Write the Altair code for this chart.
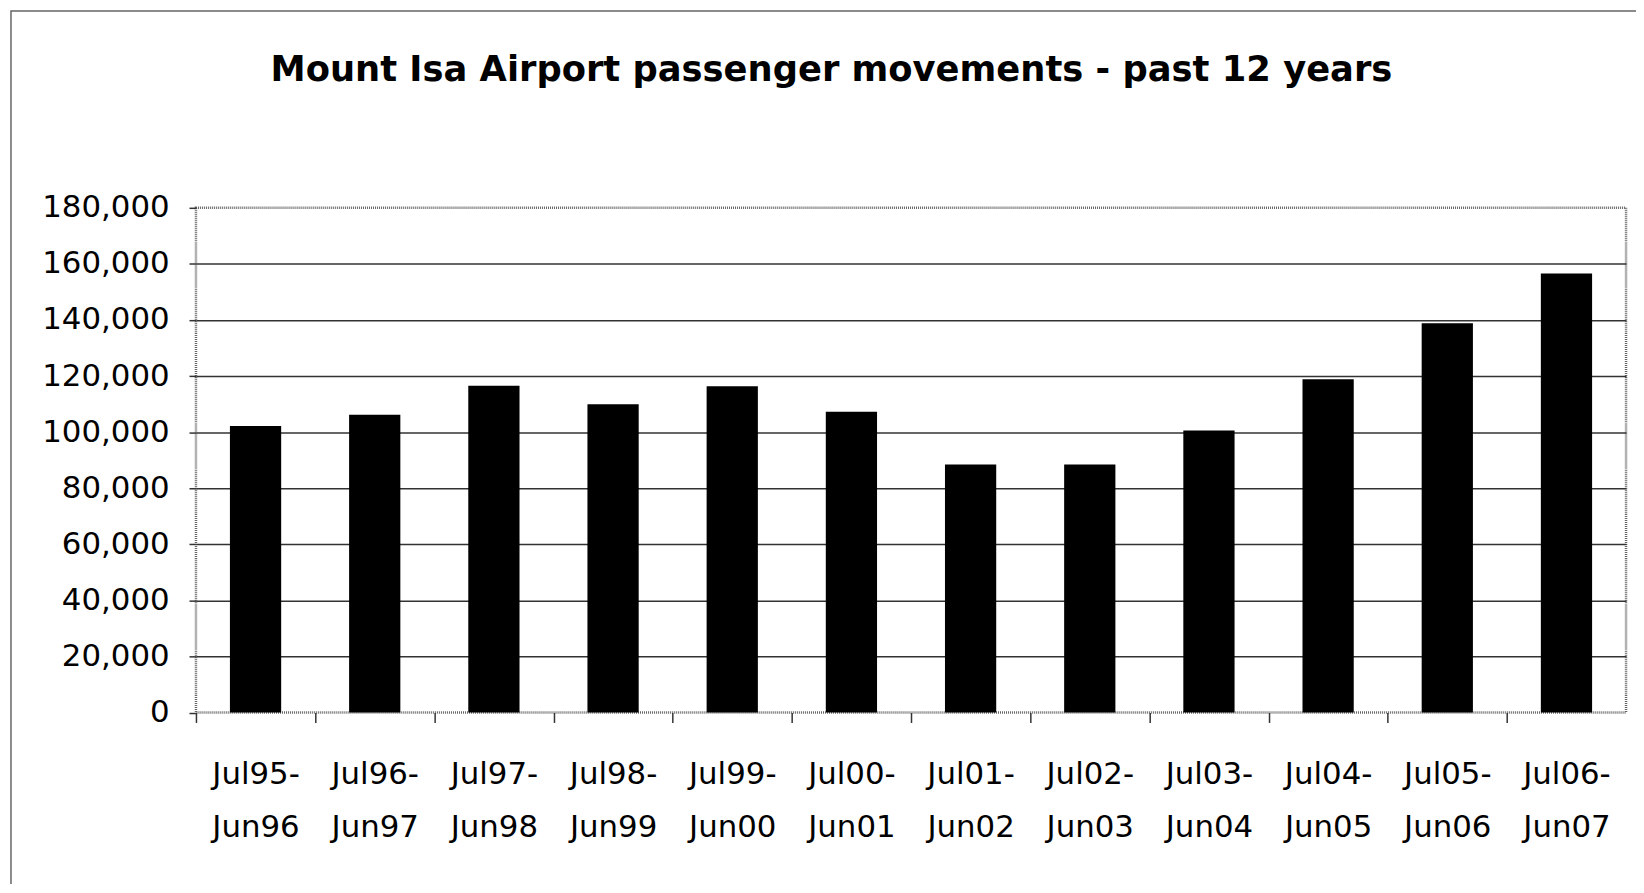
import altair as alt
import pandas as pd

period_start = ["Jul95-", "Jul96-", "Jul97-", "Jul98-", "Jul99-", "Jul00-",
                "Jul01-", "Jul02-", "Jul03-", "Jul04-", "Jul05-", "Jul06-"]
period_end = ["Jun96", "Jun97", "Jun98", "Jun99", "Jun00", "Jun01",
              "Jun02", "Jun03", "Jun04", "Jun05", "Jun06", "Jun07"]
passengers = [102200, 106200, 116500, 109900, 116400, 107300,
              88500, 88500, 100600, 118900, 138800, 156600]
y_ticks = [0, 20000, 40000, 60000, 80000, 100000, 120000, 140000, 160000, 180000]

labels = [f"{a}\n{b}" for a, b in zip(period_start, period_end)]
df = pd.DataFrame({"period": labels, "passengers": passengers})

W = 1438
H = 507.5
step = W / len(labels)
FONT = "DejaVu Sans"

bars = alt.Chart(df).mark_bar(color="black").encode(
    x=alt.X(
        "period:N",
        sort=labels,
        scale=alt.Scale(paddingInner=0.57, paddingOuter=0.285),
        axis=alt.Axis(
            title=None, labelAngle=0,
            labelExpr="split(datum.label, '\\n')",
            labelFont=FONT, labelFontSize=31, labelColor="black",
            labelLineHeight=54, labelBaseline="top", labelPadding=37,
            tickSize=10, tickColor="#333", tickWidth=1.5,
            tickOffset=-step / 2, labelOffset=step / 2,
            domain=False, grid=False,
        ),
    ),
    y=alt.Y(
        "passengers:Q",
        scale=alt.Scale(domain=[0, 180000], nice=False),
        axis=alt.Axis(
            title=None, values=y_ticks, format=",.0f",
            labelFont=FONT, labelFontSize=31, labelColor="black",
            labelPadding=20, tickSize=7, tickColor="#333", tickWidth=1.5,
            domain=False, grid=True, gridColor="#333", gridWidth=1.5,
            gridOpacity={"condition": {"test": "datum.value === 0 || datum.value === 180000", "value": 0}, "value": 1},
        ),
    ),
)

frame = alt.Chart(pd.DataFrame({"k": [0]})).mark_rect(
    fill="transparent", stroke="#666", strokeWidth=1.5
).encode(
    x=alt.value(-186), x2=alt.value(W + 80),
    y=alt.value(-198), y2=alt.value(H + 250),
)

chart = alt.layer(frame, bars).properties(
    width=W, height=H,
    title=alt.TitleParams(
        text="Mount Isa Airport passenger movements - past 12 years",
        font=FONT, fontSize=35.5, fontWeight="bold", color="black",
        anchor="middle", frame="group", dx=-80, offset=-79,
    ),
    autosize=alt.AutoSizeParams(type="none"),
    padding={"left": 189, "top": 198.5, "right": 10, "bottom": 170},
).configure_view(
    stroke="#666", strokeDash=[1, 1], strokeWidth=2.5
)

chart.save("out.html", embed_options={"renderer": "svg", "actions": False})
